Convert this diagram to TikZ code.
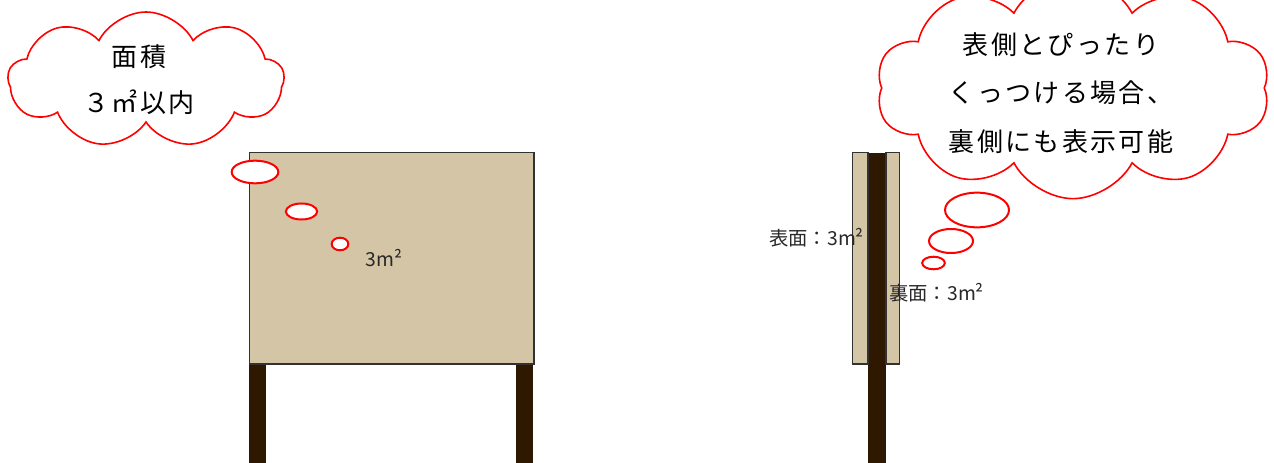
\documentclass[tikz,border=0pt]{standalone}
\usepackage{fontspec}
\setmainfont{Noto Sans CJK JP}
\newfontfamily\jp{Noto Sans CJK JP}
\newfontfamily\jpw[LetterSpace=9]{Noto Sans CJK JP}
\usetikzlibrary{shapes.symbols,shapes.geometric}
\definecolor{tan}{RGB}{212,197,166}
\definecolor{post}{RGB}{46,24,0}
\definecolor{edge}{RGB}{50,50,50}
\definecolor{txt}{RGB}{40,40,40}
\tikzset{
  panel/.style={draw=edge, line width=0.8pt, fill=tan},
  postbar/.style={fill=post, draw=none},
  bubble/.style={draw=red, line width=1.5pt, fill=white, shape=ellipse},
  cloudbox/.style={draw=red, line width=1.2pt, fill=white, shape=cloud, cloud ignores aspect, inner sep=0pt},
  bigtext/.style={text=black, font=\jpw\fontsize{19.5}{34.5}\selectfont, align=center, inner sep=0pt},
  smalltext/.style={text=txt, font=\jp\fontsize{14.5}{16}\selectfont, inner sep=0pt}
}
\begin{document}
\begin{tikzpicture}[x=0.75pt,y=-0.75pt]
\useasboundingbox (0,0) rectangle (1274,463);
\clip (0,0) rectangle (1274,463);
\fill[white] (0,0) rectangle (1274,463);
% left sign
\path[postbar] (249,364) rectangle (266,463);
\path[postbar] (516,364) rectangle (533,463);
\draw[panel] (249.5,152.5) rectangle (534,364);
\node[smalltext] (area) at (384,258) {3m²};
% right sign (side view)
\path[postbar] (868,153) rectangle (886,463);
\draw[panel] (852.5,152.5) rectangle (868,364);
\draw[panel] (886,152.5) rectangle (899.5,364);
\node[smalltext, anchor=west] (front) at (769,238) {表面：3m²};
\node[smalltext, anchor=west] (back) at (889,293) {裏面：3m²};
% left cloud
\node[cloudbox, cloud puffs=9, cloud puff arc=125, minimum width=207pt, minimum height=102pt] (cl) at (146,80) {};
\node[bigtext] (cltext) at (139,80) {面積\\３㎡以内};
\node[bubble, minimum width=35pt, minimum height=17pt] (b1) at (255,172) {};
\node[bubble, minimum width=23.5pt, minimum height=12pt] (b2) at (301.5,211.5) {};
\node[bubble, minimum width=12.5pt, minimum height=6.5pt] (b3) at (340,244) {};
% right cloud
\node[cloudbox, cloud puffs=10, cloud puff arc=125, minimum width=295pt, minimum height=166pt] (cr) at (1073,88) {};
\node[bigtext, font=\jpw\fontsize{19.5}{36.4}\selectfont] (crtext) at (1061,93) {表側とぴったり\\くっつける場合、\\裏側にも表示可能};
\node[bubble, minimum width=48pt, minimum height=26pt] (r1) at (977,210) {};
\node[bubble, minimum width=33pt, minimum height=18pt] (r2) at (951,241) {};
\node[bubble, minimum width=17pt, minimum height=9pt] (r3) at (933.5,263) {};
\end{tikzpicture}
\end{document}
